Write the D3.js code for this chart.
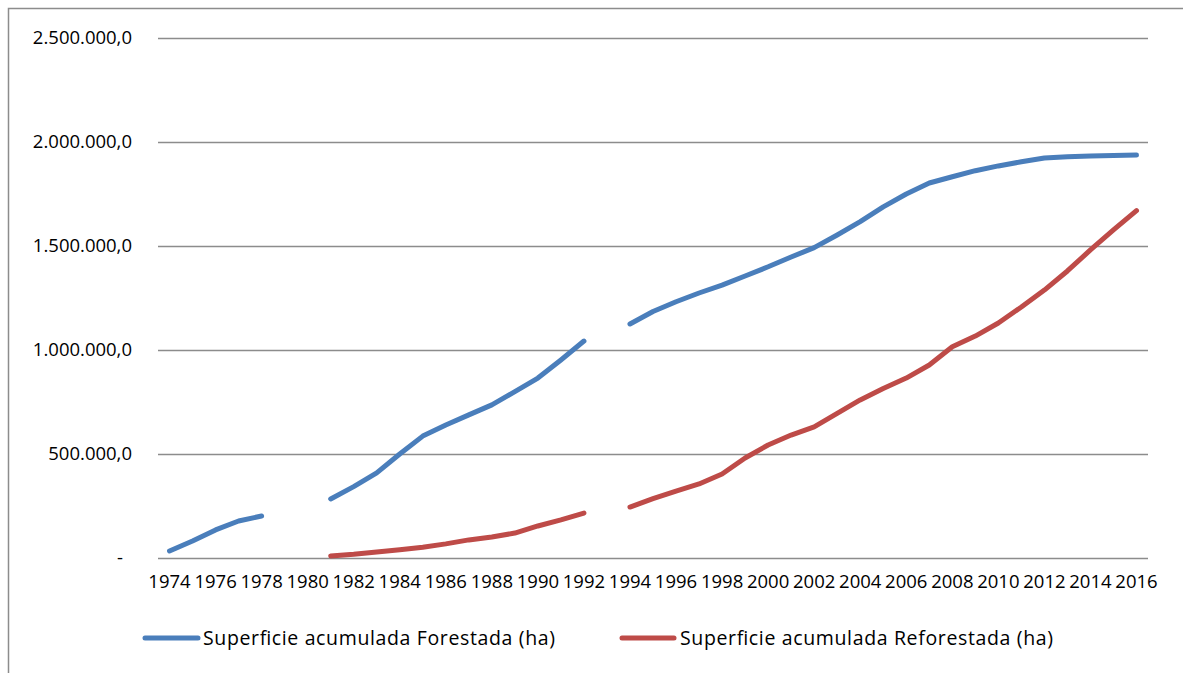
<!DOCTYPE html>
<html>
<head>
<meta charset="utf-8">
<script src="https://cdn.jsdelivr.net/npm/d3@7"></script>
<style>
  html, body { margin: 0; padding: 0; background: #fff; }
  svg { display: block; }
  text { font-family: "Open Sans", "Noto Sans", sans-serif; fill: #000; }
</style>
</head>
<body>
<svg id="chart" width="1183" height="673"></svg>
<script>
// Years on the category axis
const years = d3.range(1974, 2017);

// Accumulated afforested surface (ha); null = no record for that year
const forestada = [
  34000, 82000, 135000, 178000, 202000, null, null,
  284000, 343000, 409000, 500000, 586000, 639000, 688000, 736000, 800000,
  865000, 952000, 1043000, null,
  1125000, 1185000, 1232000, 1274000, 1312000, 1356000, 1400000, 1447000,
  1492000, 1553000, 1617000, 1688000, 1750000, 1803000, 1833000, 1862000,
  1885000, 1905000, 1923000, 1929000, 1933000, 1935000, 1937000
];

// Accumulated reforested surface (ha)
const reforestada = [
  null, null, null, null, null, null, null,
  10000, 18000, 29000, 40000, 52000, 68000, 87000, 101000, 120000,
  154000, 183000, 216000, null,
  245000, 285000, 322000, 356000, 404000, 481000, 543000, 591000,
  630000, 695000, 760000, 815000, 865000, 928000, 1016000, 1067000,
  1130000, 1207000, 1288000, 1380000, 1481000, 1577000, 1670000
];

// Value axis ticks
const yTicks = [0, 500000, 1000000, 1500000, 2000000, 2500000];

const seriesNames = ["Superficie acumulada Forestada (ha)", "Superficie acumulada Reforestada (ha)"];
const seriesColors = ["#4A7EBB", "#BE4B48"];

const svg = d3.select("#chart");
const W = 1183, H = 673;
const axisFont = 18.5;

// Outer chart frame (only top and left edges fall inside the view)
svg.append("path")
  .attr("d", `M8.5,${H} V8.5 H${W}`)
  .attr("fill", "none")
  .attr("stroke", "#8c8c8c")
  .attr("stroke-width", 1.5);

const plot = { left: 158, right: 1148, top: 38, bottom: 558 };

const x = d3.scaleBand()
  .domain(years)
  .range([plot.left, plot.right]);

const y = d3.scaleLinear()
  .domain([0, 2500000])
  .range([plot.bottom, plot.top]);

// Number format with "." thousands and "," decimals
const locale = d3.formatLocale({ decimal: ",", thousands: ".", grouping: [3], currency: ["", ""] });
const fmt = locale.format(",.1f");

// Horizontal gridlines
svg.append("g")
  .selectAll("line")
  .data(yTicks)
  .join("line")
  .attr("x1", plot.left)
  .attr("x2", plot.right)
  .attr("y1", d => Math.round(y(d)) + 0.5)
  .attr("y2", d => Math.round(y(d)) + 0.5)
  .attr("stroke", "#8c8c8c")
  .attr("stroke-width", 1.5);

// Value axis labels
const yAxis = svg.append("g")
  .attr("transform", `translate(${plot.left}, 0)`)
  .call(d3.axisLeft(y)
    .tickValues(yTicks)
    .tickSize(0)
    .tickPadding(26)
    .tickFormat(d => d === 0 ? "-" : fmt(d)));
yAxis.select(".domain").remove();
yAxis.selectAll("text")
  .attr("font-size", axisFont)
  .attr("font-family", "'Open Sans', sans-serif")
  .attr("fill", "#000")
  .attr("dx", d => d === 0 ? -9 : 0);

// Category axis labels (every other year)
const xAxis = svg.append("g")
  .attr("transform", `translate(0, ${plot.bottom})`)
  .call(d3.axisBottom(x)
    .tickValues(years.filter(yr => (yr - 1974) % 2 === 0))
    .tickSize(0)
    .tickPadding(17));
xAxis.select(".domain").remove();
xAxis.selectAll("text")
  .attr("font-size", axisFont)
  .attr("font-family", "'Open Sans', sans-serif")
  .attr("fill", "#000");

// Series lines, broken where a year has no value
const line = d3.line()
  .defined(d => d.v !== null)
  .x(d => x(d.year) + x.bandwidth() / 2)
  .y(d => y(d.v));

[forestada, reforestada].forEach((vals, i) => {
  const pts = years.map((yr, j) => ({ year: yr, v: vals[j] }));
  svg.append("path")
    .datum(pts)
    .attr("d", line)
    .attr("fill", "none")
    .attr("stroke", seriesColors[i])
    .attr("stroke-width", 5)
    .attr("stroke-linecap", "round")
    .attr("stroke-linejoin", "round");
});

// Legend
const legendItems = [
  { x1: 145, x2: 198, tx: 203, tw: 352, name: seriesNames[0], color: seriesColors[0] },
  { x1: 622, x2: 674, tx: 680, tw: 373, name: seriesNames[1], color: seriesColors[1] }
];
const lg = svg.append("g").attr("transform", "translate(0, 638)");
legendItems.forEach(it => {
  lg.append("line")
    .attr("x1", it.x1).attr("x2", it.x2)
    .attr("y1", 0).attr("y2", 0)
    .attr("stroke", it.color)
    .attr("stroke-width", 5)
    .attr("stroke-linecap", "round");
  lg.append("text")
    .attr("x", it.tx)
    .attr("y", 0)
    .attr("dy", "0.36em")
    .attr("font-size", 19.5)
    .attr("textLength", it.tw)
    .attr("lengthAdjust", "spacing")
    .text(it.name);
});
</script>
</body>
</html>
